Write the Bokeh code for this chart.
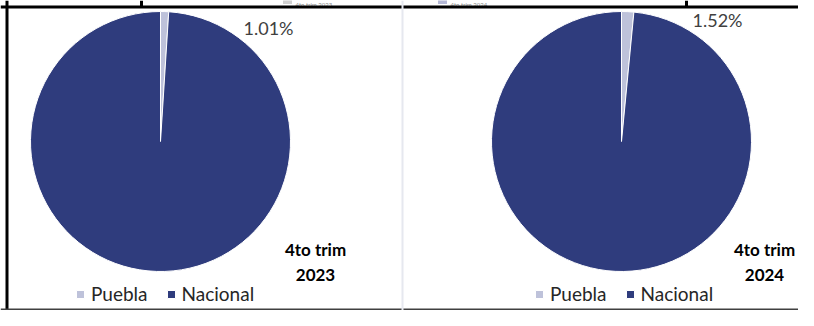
import math
from bokeh.plotting import figure
from bokeh.models import ColumnDataSource, Legend, LegendItem, Label, Span
from bokeh.embed import file_html
from bokeh.resources import INLINE

# ---- data ----
categories = ["Puebla", "Nacional"]
share_2023 = [1.01, 98.99]
share_2024 = [1.52, 98.48]
period_names = ["4to trim", "4to trim"]
period_years = ["2023", "2024"]
series_names = ["4to trim 2023", "4to trim 2024"]
series_colors = ["#D0D0D0", "#B4B8D6"]
colors = ["#BEC2DA", "#2F3C7D"]

W, H = 798, 310
p = figure(width=W, height=H, x_range=(0, W), y_range=(0, H),
           output_backend="svg", toolbar_location=None, min_border=0,
           x_axis_type=None, y_axis_type=None, outline_line_color=None,
           background_fill_color="white", border_fill_color="white")
p.grid.visible = False


def pie_source(shares, cx, cy):
    total = sum(shares)
    starts, ends = [], []
    cum = 0.0
    for s in shares:
        starts.append(math.pi / 2 - 2 * math.pi * cum / total)
        cum += s
        ends.append(math.pi / 2 - 2 * math.pi * cum / total)
    return ColumnDataSource(dict(cat=categories, share=shares, start=starts, end=ends,
                                 color=colors, x=[cx] * len(shares), y=[cy] * len(shares)))


R = 130
centers = [(160, 169), (621, 169)]
all_shares = [share_2023, share_2024]
renderers = []
for (cx, cy), shares in zip(centers, all_shares):
    src = pie_source(shares, cx, cy)
    r = p.wedge(x="x", y="y", radius=R, start_angle="start", end_angle="end",
                direction="clock", fill_color="color", line_color="white",
                line_width=1, source=src)
    renderers.append(r)

# percent labels
pct_pos = [(243, 283), (692, 291)]
for (lx, ly), shares in zip(pct_pos, all_shares):
    p.add_layout(Label(x=lx, y=ly, text=f"{shares[0]:.2f}%", text_font="Lato",
                       text_font_size="18px", text_color="#404040",
                       text_baseline="middle", text_align="left"))

# period labels
per_x = [315, 764]
for px, nm, yr in zip(per_x, period_names, period_years):
    p.add_layout(Label(x=px, y=61, text=nm, text_font="Lato", text_font_style="bold",
                       text_font_size="17px", text_color="#000000",
                       text_baseline="middle", text_align="center"))
    p.add_layout(Label(x=px, y=36, text=yr, text_font="Lato", text_font_style="bold",
                       text_font_size="17px", text_color="#000000",
                       text_baseline="middle", text_align="center"))

# legends
leg_x = [75, 534]
for lx, r in zip(leg_x, renderers):
    items = [LegendItem(label=c, renderers=[r], index=i) for i, c in enumerate(categories)]
    leg = Legend(items=items, location=(lx, 5), orientation="horizontal",
                 border_line_alpha=0, background_fill_alpha=0, padding=0, margin=0,
                 glyph_width=10, glyph_height=10, label_standoff=6, spacing=18,
                 label_height=18, label_text_font="Lato", label_text_font_size="19px",
                 label_text_color="#262626", label_text_baseline="middle")
    p.add_layout(leg)

# series legend squeezed into the top strip (mostly outside the reference crop)
top_mark_x = [287, 442]
for mx, nm, col in zip(top_mark_x, series_names, series_colors):
    p.rect(x=[mx], y=[H + 1], width=9, height=9, fill_color=col, line_color=None)
    p.add_layout(Label(x=mx + 8, y=H - 0.5, text=nm, text_font="Lato",
                       text_font_size="6px", text_color="#8C8C8C",
                       text_baseline="top", text_align="left"))
p.segment(x0=[141, 686], y0=[H, H], x1=[141, 686], y1=[H - 6, H - 6],
          line_color="black", line_width=3)

# frame lines
p.add_layout(Span(location=6.5, dimension="height", line_color="black", line_width=3))
p.add_layout(Span(location=H - 6.5, dimension="width", line_color="black", line_width=3))
p.add_layout(Span(location=1, dimension="width", line_color="#404040", line_width=2))
p.add_layout(Span(location=402, dimension="height", line_color="#E6E8EF", line_width=2))

open("out.html", "w").write(file_html(p, INLINE))
